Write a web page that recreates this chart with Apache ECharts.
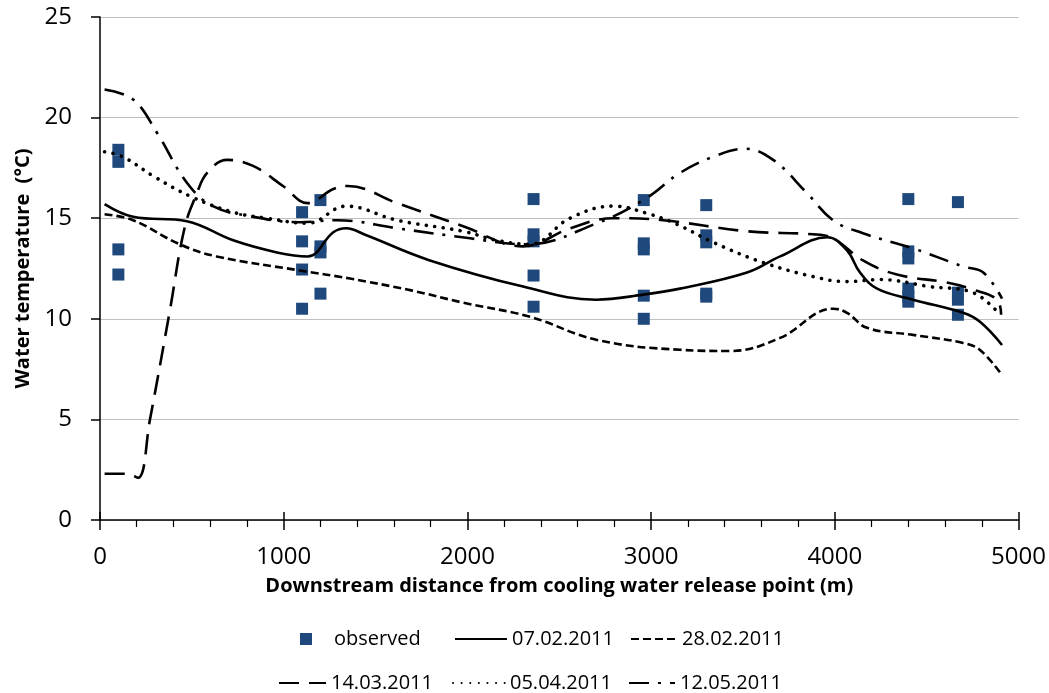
<!DOCTYPE html>
<html>
<head>
<meta charset="utf-8">
<script src="https://cdn.jsdelivr.net/npm/echarts@6/dist/echarts.min.js"></script>
<style>
html, body { margin: 0; padding: 0; background: #fff; }
#chart { width: 1049px; height: 693px; }
</style>
</head>
<body>
<div id="chart"></div>
<script>
// observed points, [distance m, temperature °C]
const observed = [
    [100, 18.4], [100, 17.8], [100, 13.45], [100, 12.2],
    [1100, 15.3], [1100, 13.85], [1100, 12.45], [1100, 10.5],
    [1200, 15.9], [1200, 13.6], [1200, 13.3], [1200, 11.25],
    [2360, 15.95], [2360, 14.2], [2360, 13.85], [2360, 12.15], [2360, 10.6],
    [2960, 15.9], [2960, 13.75], [2960, 13.45], [2960, 11.15], [2960, 10.0],
    [3300, 15.65], [3300, 14.15], [3300, 13.8], [3300, 11.25], [3300, 11.1],
    [4400, 15.95], [4400, 13.35], [4400, 13.0], [4400, 11.5], [4400, 11.1], [4400, 10.85],
    [4670, 15.8], [4670, 11.3], [4670, 10.95], [4670, 10.2]
];

const run0702 = [
    [25, 15.7], [180, 15.07], [473, 14.85], [725, 13.9], [963, 13.3], [1130, 13.1],
    [1270, 14.3], [1340, 14.5], [1450, 14.15], [1796, 12.9], [2303, 11.6],
    [2700, 10.95], [2957, 11.2], [3157, 11.5], [3522, 12.3], [3702, 13.1],
    [3960, 14.05], [4066, 13.4], [4137, 12.3], [4230, 11.5], [4426, 10.95],
    [4698, 10.3], [4790, 9.85], [4910, 8.7]
];

const run2802 = [
    [25, 15.2], [180, 14.9], [435, 13.7], [635, 13.1], [1089, 12.4], [1361, 12.0],
    [1700, 11.4], [1977, 10.8], [2341, 10.1], [2705, 8.95], [3157, 8.46], [3430, 8.4],
    [3702, 9.05], [3990, 10.5], [4066, 10.3], [4175, 9.55], [4426, 9.2], [4698, 8.8],
    [4790, 8.45], [4910, 7.2]
];

const run1403 = [
    [25, 2.3], [147, 2.3], [207, 2.1], [272, 5.0], [381, 10.45], [460, 14.5], [528, 16.25],
    [583, 17.25], [691, 17.9], [833, 17.6], [996, 16.6], [1130, 15.75],
    [1270, 16.45], [1350, 16.6], [1617, 15.75], [1977, 14.6], [2303, 13.6], [2560, 14.5],
    [2794, 15.0], [3065, 14.9], [3522, 14.35], [3881, 14.2], [3990, 14.0],
    [4153, 12.9], [4338, 12.2], [4610, 11.8], [4752, 11.45], [4883, 10.95], [4905, 10.2]
];

const run0504 = [
    [25, 18.3], [125, 18.05], [289, 17.1], [490, 16.1], [724, 15.3], [909, 15.0],
    [1130, 14.75], [1340, 15.6], [1617, 14.9], [1977, 14.35], [2160, 13.9],
    [2341, 13.7], [2558, 15.0], [2794, 15.6], [2975, 15.25], [3140, 14.7], [3337, 13.8],
    [3609, 12.8], [3881, 12.1], [4066, 11.85], [4246, 11.95], [4518, 11.6], [4752, 11.3],
    [4890, 10.3]
];

const run1205 = [
    [25, 21.4], [180, 20.9], [310, 19.25], [474, 16.75], [615, 15.6], [817, 15.1],
    [1089, 14.8], [1290, 14.9], [1617, 14.5], [2014, 14.0], [2320, 13.7],
    [2705, 14.75], [2975, 16.0], [3157, 17.25], [3337, 18.05], [3511, 18.45],
    [3664, 17.9], [3848, 16.25], [3990, 14.9], [4153, 14.25], [4426, 13.5], [4698, 12.6],
    [4808, 12.3], [4910, 11.0]
];

const chart = echarts.init(document.getElementById('chart'));
const font = 'Open Sans';

function runSeries(name, data, dash, width, cap) {
    return {
        name: name,
        type: 'line',
        data: data,
        symbol: 'none',
        smooth: 0.4,
        lineStyle: { color: '#000', width: width, type: dash, cap: cap || 'butt' },
        itemStyle: { color: '#000' }
    };
}

// line legends: keep the line, hide the marker ECharts puts in the middle
function legendAt(name, left, top, w) {
    return {
        data: [name], left: left, top: top,
        itemWidth: w, itemHeight: 4, itemGap: 0,
        itemStyle: { opacity: 0 },
        textStyle: { fontFamily: font, fontSize: 20, color: '#000' }
    };
}

const obsLegend = {
    data: ['observed'], left: 295, top: 624, itemWidth: 12, itemHeight: 12,
    textStyle: { fontFamily: font, fontSize: 20, color: '#000', padding: [0, 0, 0, 17] }
};

chart.setOption({
    animation: false,
    grid: { left: 100, right: 30, top: 17, bottom: 173 },
    xAxis: [{
        type: 'value', min: 0, max: 5000, interval: 1000,
        name: 'Downstream distance from cooling water release point (m)',
        nameLocation: 'middle', nameGap: 56,
        nameTextStyle: { fontFamily: font, fontSize: 20, fontWeight: 'bold', color: '#000' },
        axisLine: { show: true, onZero: false, lineStyle: { color: '#000', width: 1.5 } },
        axisTick: { show: true, length: 10, lineStyle: { color: '#000', width: 1.5 } },
        minorTick: { show: true, splitNumber: 5, length: 7, lineStyle: { color: '#000', width: 1.2 } },
        splitLine: { show: false },
        axisLabel: { fontFamily: font, fontSize: 24, color: '#000', margin: 25, formatter: v => String(v) }
    }, {
        // inner half of the crossing major ticks
        type: 'value', min: 0, max: 5000, interval: 1000, position: 'bottom',
        axisLine: { show: false },
        axisTick: { show: true, inside: true, length: 8, lineStyle: { color: '#000', width: 1.5 } },
        axisLabel: { show: false },
        splitLine: { show: false }
    }],
    yAxis: {
        type: 'value', min: 0, max: 25, interval: 5,
        name: 'Water temperature  (\u00B0C)',
        nameLocation: 'middle', nameGap: 65,
        nameTextStyle: { fontFamily: font, fontSize: 20, fontWeight: 'bold', color: '#000' },
        axisLine: { show: true, lineStyle: { color: '#000', width: 1.5 } },
        axisTick: { show: true, length: 9, lineStyle: { color: '#000', width: 1.5 } },
        splitLine: { show: true, lineStyle: { color: '#bfbfbf', width: 1.2 } },
        axisLabel: { fontFamily: font, fontSize: 24, color: '#000', margin: 28 }
    },
    legend: [
        obsLegend,
        legendAt('07.02.2011', 449, 624, 52),
        legendAt('28.02.2011', 625, 624, 46),
        legendAt('14.03.2011', 273, 668, 47),
        legendAt('05.04.2011', 447, 668, 52),
        legendAt('12.05.2011', 623, 668, 46)
    ],
    series: [
        {
            name: 'observed', type: 'scatter', data: observed,
            symbol: 'rect', symbolSize: 12,
            itemStyle: { color: '#1f497d', opacity: 1 }
        },
        runSeries('07.02.2011', run0702, 'solid', 2.6),
        runSeries('28.02.2011', run2802, [8, 4], 2.6),
        runSeries('14.03.2011', run1403, [20, 10], 2.6),
        runSeries('05.04.2011', run0504, [0.1, 8.5], 3.6, 'round'),
        runSeries('12.05.2011', run1205, [20, 9, 3, 9], 2.6)
    ]
});
</script>
</body>
</html>
